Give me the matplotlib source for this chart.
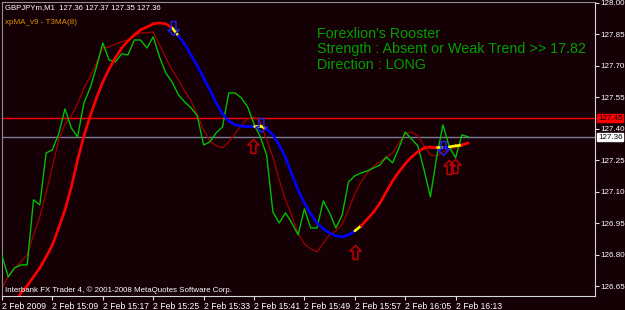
import numpy as np
import matplotlib
matplotlib.use("Agg")
import matplotlib.pyplot as plt
from matplotlib.path import Path
from matplotlib.collections import LineCollection

# one bar per minute, bar 0 = 2 Feb 2009 15:01
close = [126.794, 126.694, 126.737, 126.751, 126.751, 127.061, 127.037, 127.284, 127.299, 127.375,
         127.494, 127.403, 127.361, 127.522, 127.594, 127.694, 127.808, 127.727, 127.718, 127.756,
         127.751, 127.822, 127.822, 127.784, 127.837, 127.742, 127.665, 127.622, 127.561, 127.527,
         127.499, 127.461, 127.322, 127.337, 127.380, 127.408, 127.570, 127.570, 127.546, 127.503,
         127.422, 127.361, 127.275, 127.003, 126.951, 126.999, 126.951, 126.894, 127.018, 126.927,
         126.927, 127.056, 126.999, 126.927, 126.989, 127.146, 127.175, 127.189, 127.199, 127.213,
         127.227, 127.265, 127.237, 127.308, 127.384, 127.351, 127.318, 127.203, 127.075, 127.265,
         127.418, 127.313, 127.261, 127.370, 127.361]

ma = [126.641, 126.699, 126.737, 126.765, 126.799, 126.894, 126.980, 127.094, 127.218, 127.346,
      127.422, 127.461, 127.518, 127.594, 127.646, 127.713, 127.784, 127.789, 127.803, 127.813,
      127.822, 127.842, 127.856, 127.856, 127.861, 127.799, 127.737, 127.680, 127.632, 127.580,
      127.532, 127.465, 127.394, 127.342, 127.318, 127.308, 127.337, 127.375, 127.418, 127.446,
      127.456, 127.432, 127.346, 127.265, 127.156, 127.061, 126.984, 126.903, 126.851, 126.827,
      126.813, 126.856, 126.894, 126.913, 126.946, 127.013, 127.089, 127.146, 127.189, 127.222,
      127.242, 127.265, 127.284, 127.332, 127.375, 127.384, 127.365, 127.318, 127.275, 127.270,
      127.289, 127.303, 127.308, 127.318, 127.332]

# T3MA(8) starts at bar 2
t3_start = 2
t3 = [126.560, 126.618, 126.651, 126.694, 126.737, 126.789, 126.846, 126.927, 127.013, 127.122,
      127.251, 127.365, 127.461, 127.546, 127.622, 127.684, 127.737, 127.784, 127.818, 127.846,
      127.870, 127.884, 127.899, 127.903, 127.899, 127.880, 127.842, 127.803, 127.751, 127.699,
      127.642, 127.584, 127.522, 127.470, 127.437, 127.418, 127.413, 127.413, 127.413, 127.413,
      127.399, 127.370, 127.322, 127.261, 127.184, 127.108, 127.046, 126.994, 126.951, 126.922,
      126.903, 126.889, 126.884, 126.894, 126.913, 126.937, 126.970, 127.003, 127.046, 127.099,
      127.151, 127.194, 127.232, 127.265, 127.289, 127.308, 127.313, 127.313, 127.313, 127.313,
      127.318, 127.322, 127.332]
# trend state of each T3 bar: r = up, b = down, y = flat
t3_state = "r" * 25 + "y" + "b" * 12 + "yy" + "b" * 14 + "y" + "r" * 12 + "yby" + "yrr"

up_x = [39.9, 56.0, 70.9, 71.9]
up_y = [127.315, 126.813, 127.216, 127.222]
down_x = [27.1, 41.1, 70.0]
down_y = [127.877, 127.418, 127.308]

level_red = 127.45
level_bid = 127.36

yticks = [126.65, 126.80, 126.95, 127.10, 127.25, 127.40, 127.55, 127.70, 127.85, 128.00]
xtick_pos = [0, 8, 16, 24, 32, 40, 48, 56, 64, 72]
xtick_lab = ['2 Feb 2009', '2 Feb 15:09', '2 Feb 15:17', '2 Feb 15:25', '2 Feb 15:33',
             '2 Feb 15:41', '2 Feb 15:49', '2 Feb 15:57', '2 Feb 16:05', '2 Feb 16:13']

bg = '#140005'
small = 'Liberation Sans'
state_col = {'r': '#ff0000', 'b': '#0000ff', 'y': '#ffff00'}

fig = plt.figure(figsize=(6.25, 3.10), dpi=100, facecolor=bg)
ax = fig.add_axes([2 / 625, 14 / 310, 593 / 625, 294 / 310])
ax.set_facecolor(bg)
ax.set_xlim(0, 94.13)
ax.set_ylim(126.603, 128.003)

bars = np.arange(len(close))
ax.axhline(level_red, color='#ff0000', lw=1, zorder=1)
ax.axhline(level_bid, color='#7c7c98', lw=1, zorder=1)

ax.plot(bars, ma, color='#a00000', lw=0.9, zorder=2)
ax.plot(bars, close, color='#00c000', lw=1.0, zorder=3)

tx = np.arange(t3_start, t3_start + len(t3))
segs = [[(tx[k], t3[k]), (tx[k + 1], t3[k + 1])] for k in range(len(t3) - 1)]
cols = [state_col[s] for s in t3_state[:len(segs)]]
ax.add_collection(LineCollection(segs, colors=cols, linewidths=1.9, capstyle='round', zorder=4))

up_arrow = Path([(0, 1), (0.8, 0.2), (0.35, 0.2), (0.35, -1), (-0.35, -1), (-0.35, 0.2),
                 (-0.8, 0.2), (0, 1)], closed=True)
down_arrow = Path([(0, -1), (0.8, -0.2), (0.35, -0.2), (0.35, 1), (-0.35, 1), (-0.35, -0.2),
                   (-0.8, -0.2), (0, -1)], closed=True)
ax.plot(up_x, up_y, ls='none', marker=up_arrow, ms=10, mfc='none', mec='#c00000', mew=1.1, zorder=5)
ax.plot(down_x, down_y, ls='none', marker=down_arrow, ms=10, mfc='none', mec='#2020e0', mew=1.1, zorder=5)

# axes look
for side in ['left', 'top']:
    ax.spines[side].set_color('#909090')
for side in ['right', 'bottom']:
    ax.spines[side].set_color('#d8d8d8')
ax.yaxis.tick_right()
ax.set_yticks(yticks)
ax.set_yticklabels(['%.2f' % v for v in yticks], family=small)
ax.set_xticks(xtick_pos)
ax.set_xticklabels(xtick_lab, ha='left', family=small)
ax.tick_params(axis='both', colors='#e0e0e0', labelcolor='#ffffff', labelsize=6.2, length=3, width=0.8, pad=1.5)
ax.tick_params(axis='y', labelsize=5.8, pad=0.8)

# last-price boxes on the price scale
ax.text(1.005, level_red, '127.45', transform=ax.get_yaxis_transform(), fontsize=5.8, color='black',
        family=small, va='center', ha='left',
        bbox=dict(boxstyle='square,pad=0.1', fc='#ff0000', ec='#ff0000'))
ax.text(1.005, level_bid, '127.36', transform=ax.get_yaxis_transform(), fontsize=5.8, color='black',
        family=small, va='center', ha='left',
        bbox=dict(boxstyle='square,pad=0.1', fc='#ffffff', ec='#ffffff'))

fig.text(5 / 625, 1 - 8 / 310, 'GBPJPYm,M1  127.36 127.37 127.35 127.36', color='white',
         fontsize=5.6, family=small, va='center', ha='left')
fig.text(5 / 625, 1 - 23 / 310, 'xpMA_v9 - T3MA(8)', color='#e09000', fontsize=5.8, family=small,
         va='center', ha='left')
fig.text(5 / 625, 1 - 290 / 310, 'Interbank FX Trader 4, \u00a9 2001-2008 MetaQuotes Software Corp.',
         color='white', fontsize=5.7, family=small, va='center', ha='left')

info = ["Forexlion's Rooster", 'Strength : Absent or Weak Trend >> 17.82', 'Direction : LONG']
for k, line in enumerate(info):
    fig.text(317 / 625, 1 - (34 + 15.5 * k) / 310, line, color='#00a000', fontsize=10.3,
             family='Liberation Sans', va='center', ha='left')

fig.savefig('out.png', dpi=100, facecolor=bg)
